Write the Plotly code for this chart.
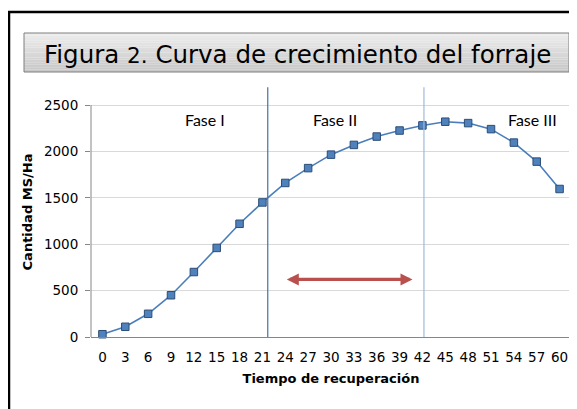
import plotly.graph_objects as go

# ---- data ----
dias = [0, 3, 6, 9, 12, 15, 18, 21, 24, 27, 30, 33, 36, 39, 42, 45, 48, 51, 54, 57, 60]
materia_seca = [30, 110, 250, 450, 700, 960, 1220, 1450, 1660, 1820, 1965, 2070, 2160,
                2225, 2280, 2320, 2305, 2240, 2095, 1890, 1595]
y_ticks = [0, 500, 1000, 1500, 2000, 2500]
fases = ["Fase I", "Fase II", "Fase III"]
fase_x = [13.5, 30.5, 56.5]
limites_fase = [21.7, 42.2]
flecha_x = [24, 40.7]
flecha_y = 620

# page body has an 8px default margin: work in window pixels, shift by OFF
OFF = 8
W, H = 577 - OFF, 409 - OFF
L, R, T, B = 91 - OFF, 571 - OFF, 87 - OFF, 337 - OFF
def px(x):
    return (x - OFF - L) / (R - L)
def py(y):
    return (B - (y - OFF)) / (B - T)

fig = go.Figure()
fig.add_trace(go.Scatter(
    x=dias, y=materia_seca, mode="lines+markers",
    line=dict(color="#4a7ebb", width=1.6),
    marker=dict(symbol="square", size=7.5, color="#4f81bd",
                line=dict(color="#2c4d75", width=1)),
    cliponaxis=False, showlegend=False,
))

shapes = []
# y axis line (0..2500)
shapes.append(dict(type="line", xref="paper", yref="y", x0=0, x1=0, y0=0, y1=2500,
                   line=dict(color="#868686", width=1)))
# phase separators
shapes.append(dict(type="line", xref="x", yref="y", x0=limites_fase[0], x1=limites_fase[0],
                   y0=0, y1=2690, line=dict(color="#4a6fa5", width=1.2)))
shapes.append(dict(type="line", xref="x", yref="y", x0=limites_fase[1], x1=limites_fase[1],
                   y0=0, y1=2690, line=dict(color="#9fbadc", width=1.2)))
# outer frame
shapes.append(dict(type="rect", xref="paper", yref="paper", x0=px(9), x1=px(640),
                   y0=py(460), y1=py(12), line=dict(color="black", width=2.5),
                   fillcolor="rgba(0,0,0,0)", layer="above"))
# title box gradient strips
n = 16
y_top, y_bot = 33, 72
for i in range(n):
    t = i / (n - 1)
    c = int(236 - t * (236 - 200))
    ya = y_top + (y_bot - y_top) * i / n
    yb = y_top + (y_bot - y_top) * (i + 1) / n
    shapes.append(dict(type="rect", xref="paper", yref="paper", x0=px(24), x1=px(569),
                       y0=py(yb), y1=py(ya), line=dict(width=0),
                       fillcolor=f"rgb({c},{c},{c})", layer="above"))
shapes.append(dict(type="rect", xref="paper", yref="paper", x0=px(24), x1=px(569),
                   y0=py(y_bot), y1=py(y_top), line=dict(color="#7f7f7f", width=1),
                   fillcolor="rgba(0,0,0,0)", layer="above"))

annotations = []
annotations.append(dict(
    xref="paper", yref="paper", x=px(297), y=py(54), xanchor="center", yanchor="middle",
    text="Figura <span style='font-size:21.5px'>2.</span> Curva de crecimiento del forraje",
    showarrow=False, font=dict(family="DejaVu Sans", size=24.5, color="black")))
for name, fx in zip(fases, fase_x):
    annotations.append(dict(xref="x", yref="paper", x=fx, y=py(119), text=name,
                            showarrow=False, xanchor="center", yanchor="middle",
                            font=dict(family="Lato", size=16, color="black")))
annotations.append(dict(
    xref="x", yref="y", x=flecha_x[1], y=flecha_y, ax=flecha_x[0], ay=flecha_y,
    axref="x", ayref="y", text="", showarrow=True, arrowhead=2, startarrowhead=2,
    arrowside="end+start", arrowsize=0.75, startarrowsize=0.75, arrowwidth=3.2,
    arrowcolor="#b9504d"))

fig.update_layout(
    width=W, height=H,
    margin=dict(l=L, r=W - R, t=T, b=H - B),
    paper_bgcolor="white", plot_bgcolor="white",
    font=dict(family="DejaVu Sans", size=13, color="black"),
    shapes=shapes, annotations=annotations,
    xaxis=dict(
        range=[-1.5, 61.5], tickmode="array", tickvals=dias,
        ticktext=[str(d) for d in dias], showgrid=False, zeroline=False,
        showline=True, linecolor="#868686", linewidth=1, ticks="",
        tickfont=dict(family="DejaVu Sans", size=13.5, color="black"),
        ticklabelstandoff=8,
        title=dict(text="<b>Tiempo de recuperación</b>", standoff=9,
                   font=dict(family="DejaVu Sans", size=13, color="black")),
    ),
    yaxis=dict(
        range=[0, 2694], tickmode="array", tickvals=y_ticks,
        showgrid=True, gridcolor="#d9d9d9", gridwidth=1, zeroline=False,
        showline=False, ticks="outside", ticklen=5, tickcolor="#868686",
        tickfont=dict(family="DejaVu Sans", size=13.5, color="black"),
        ticklabelstandoff=4,
        title=dict(text="<b>Cantidad MS/Ha</b>", standoff=8,
                   font=dict(family="DejaVu Sans", size=13, color="black")),
    ),
)

fig.write_html("out.html")
